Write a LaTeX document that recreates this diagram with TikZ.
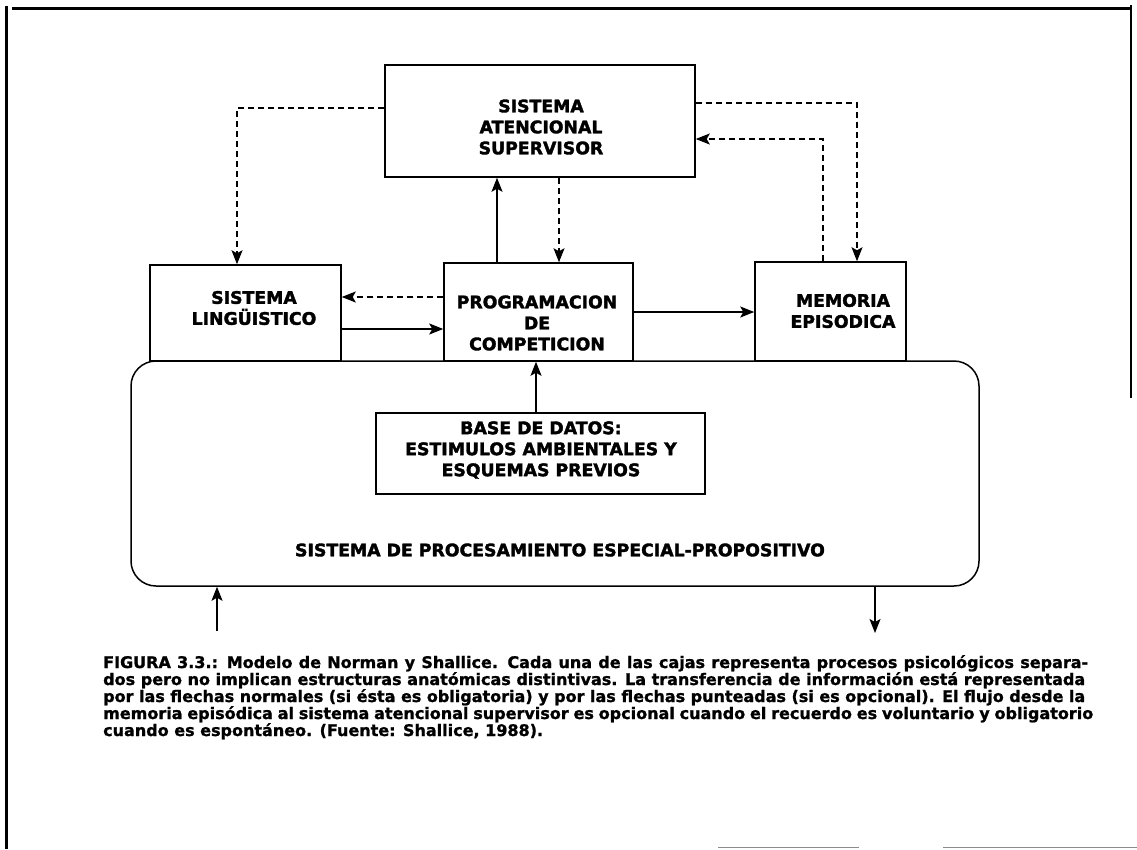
\documentclass[tikz,border=0pt]{standalone}
\usepackage{fontspec}
\setmainfont{DejaVu Sans}[BoldFeatures={FakeBold=1.2}]
\newfontfamily\heavysans{DejaVu Sans Bold}[FakeBold=2]
\usetikzlibrary{arrows.meta}

\begin{document}
\begin{tikzpicture}[x=1pt,y=-1pt,
  box/.style={draw, line width=1.5pt, fill=white, inner sep=0pt},
  lbl/.style={font=\heavysans\fontsize{17.3}{21}\selectfont, align=center, inner sep=0pt},
  tip/.style={-{Stealth[length=14pt,width=11pt,inset=3pt]}},
  solidarrow/.style={line width=1.3pt, tip},
  dasharrow/.style={line width=1.2pt, dash pattern=on 6pt off 4pt, tip},
  frameline/.style={line width=3pt}]

\useasboundingbox (0,0) rectangle (1137,849);

% page frame
\draw[frameline] (6,849) -- (6,6);
\draw[frameline] (12,8) -- (1131,8);
\draw[line width=2pt] (1131,5) -- (1131,398);
\draw[black!45, line width=1pt] (718,847) -- (859,847);
\draw[black!45, line width=1pt] (943,847) -- (1137,847);

% special-purpose processing system (container)
\node[box, rounded corners=25pt, minimum width=848pt, minimum height=225pt] (spe) at (555,473.5) {};
\node[lbl] (spetxt) at (560,550) {SISTEMA DE PROCESAMIENTO ESPECIAL-PROPOSITIVO};

% boxes
\node[box, minimum width=310pt, minimum height=112pt] (sas) at (540,121) {};
\node[box, minimum width=191pt, minimum height=96pt] (sl) at (245.5,313) {};
\node[box, minimum width=189pt, minimum height=98pt] (pc) at (538.5,312) {};
\node[box, minimum width=151pt, minimum height=99pt] (mm) at (830.5,311.5) {};
\node[box, minimum width=329pt, minimum height=81pt] (bd) at (540.5,453.5) {};

% box labels
\node[lbl] (sastxt) at (541,127) {SISTEMA\\ATENCIONAL\\SUPERVISOR};
\node[lbl] (sltxt) at (254,308) {SISTEMA\\LINGÜISTICO};
\node[lbl] (pctxt) at (537,323) {PROGRAMACION\\DE\\COMPETICION};
\node[lbl] (mmtxt) at (843,311) {MEMORIA\\EPISODICA};
\node[lbl] (bdtxt) at (541,450) {BASE DE DATOS:\\ESTIMULOS AMBIENTALES Y\\ESQUEMAS PREVIOS};

% connectors
\draw[dasharrow] ([yshift=13pt]sas.west) -| ([xshift=-8.5pt]sl.north);
\draw[dasharrow] ([yshift=15pt]pc.west) -- ([yshift=16pt]sl.east);
\draw[solidarrow] ([yshift=-16pt]sl.east) -- ([yshift=-17pt]pc.west);
\draw[solidarrow] ([xshift=-41.5pt]pc.north) -- ([xshift=-43pt]sas.south);
\draw[dasharrow] ([xshift=19pt]sas.south) -- ([xshift=20.5pt]pc.north);
\draw[solidarrow] (pc.east) -- (pc.east -| mm.west);
\draw[dasharrow] ([yshift=18pt]sas.east) -| ([xshift=26.5pt]mm.north);
\draw[dasharrow] ([xshift=-7.5pt]mm.north) |- ([yshift=-18pt]sas.east);
\draw[solidarrow] ([xshift=-4.5pt]bd.north) -- ([xshift=-2.5pt]pc.south);

% input and output of the system
\coordinate (in) at (217,631);
\coordinate (out) at (875,633);
\draw[solidarrow] (in) -- (in |- spe.south);
\draw[solidarrow] (out |- spe.south) -- (out);

% caption
\node[anchor=north west, inner sep=0pt, align=left,
      font=\bfseries\fontsize{16}{17}\selectfont] (cap) at (103,655) {%
\makebox[985pt][s]{FIGURA 3.3.: Modelo de Norman y Shallice. Cada una de las cajas representa procesos psicológicos separa-}\\
\makebox[982pt][s]{dos pero no implican estructuras anatómicas distintivas. La transferencia de información está representada}\\
\makebox[982pt][s]{por las flechas normales (si ésta es obligatoria) y por las flechas punteadas (si es opcional). El flujo desde la}\\
\makebox[990pt][s]{memoria episódica al sistema atencional supervisor es opcional cuando el recuerdo es voluntario y obligatorio}\\
cuando es espontáneo. (Fuente: Shallice, 1988).};

\end{tikzpicture}
\end{document}
